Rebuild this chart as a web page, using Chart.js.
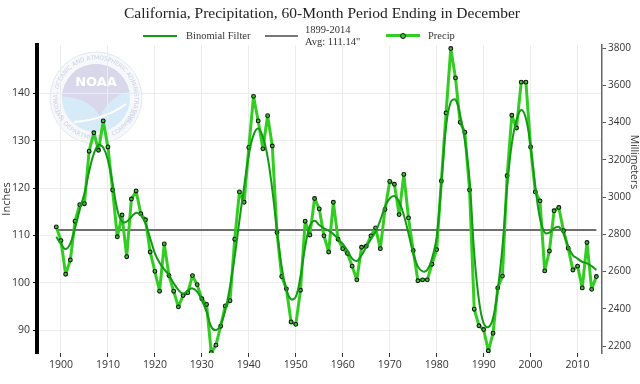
<!DOCTYPE html>
<html lang="en">
<head>
  <meta charset="UTF-8">
  <title>California, Precipitation, 60-Month Period Ending in December</title>
  <style>
    * { margin: 0; padding: 0; box-sizing: border-box; }
    body { background: #fff; }
    #wrap { position: relative; width: 640px; height: 384px; }
    #wrap canvas { position: absolute; left: 0; top: 0; }
    .title {
      position: absolute; left: 0; top: 4px; width: 644px; text-align: center;
      font-family: 'Liberation Serif', serif; font-size: 15.5px; color: #222;
    }
    .leg { position: absolute; font-family: 'Liberation Serif', serif; font-size: 10.5px; color: #333; line-height: 11px; white-space: nowrap; }
    .swatch { position: absolute; }
    .mm {
      position: absolute; left: 600px; top: 155px; width: 70px; text-align: center;
      font-family: 'Open Sans', sans-serif; font-size: 10.5px; color: #333;
      transform: rotate(90deg); transform-origin: center center;
    }
  </style>
</head>
<body>
  <div id="wrap">
    <canvas id="chart" width="640" height="384"></canvas>
    <div class="title">California, Precipitation, 60-Month Period Ending in December</div>

    <div class="swatch" style="left:143px;top:35px;width:34px;height:2px;background:#129a12"></div>
    <div class="leg" style="left:186px;top:30px">Binomial Filter</div>

    <div class="swatch" style="left:265px;top:35px;width:33px;height:2px;background:#777"></div>
    <div class="leg" style="left:305px;top:24px">1899-2014</div>
    <div class="leg" style="left:305px;top:36px">Avg: 111.14"</div>

    <div class="swatch" style="left:386px;top:34px;width:34px;height:3px;background:#33cc22"></div>
    <div class="swatch" style="left:400px;top:32.5px;width:6px;height:6px;border:1.2px solid #111;border-radius:50%;background:#33cc22"></div>
    <div class="leg" style="left:428px;top:30px">Precip</div>

    <div class="mm">Millimeters</div>
  </div>

  <script src="https://cdn.jsdelivr.net/npm/chart.js@4.4.1/dist/chart.umd.min.js"></script>
  <script>
    const years = [
      1899,
      1900, 1901, 1902, 1903, 1904, 1905, 1906, 1907, 1908, 1909,
      1910, 1911, 1912, 1913, 1914, 1915, 1916, 1917, 1918, 1919,
      1920, 1921, 1922, 1923, 1924, 1925, 1926, 1927, 1928, 1929,
      1930, 1931, 1932, 1933, 1934, 1935, 1936, 1937, 1938, 1939,
      1940, 1941, 1942, 1943, 1944, 1945, 1946, 1947, 1948, 1949,
      1950, 1951, 1952, 1953, 1954, 1955, 1956, 1957, 1958, 1959,
      1960, 1961, 1962, 1963, 1964, 1965, 1966, 1967, 1968, 1969,
      1970, 1971, 1972, 1973, 1974, 1975, 1976, 1977, 1978, 1979,
      1980, 1981, 1982, 1983, 1984, 1985, 1986, 1987, 1988, 1989,
      1990, 1991, 1992, 1993, 1994, 1995, 1996, 1997, 1998, 1999,
      2000, 2001, 2002, 2003, 2004, 2005, 2006, 2007, 2008, 2009,
      2010, 2011, 2012, 2013, 2014
    ];

    // 60-month precipitation totals, inches
    const precip = [
      111.8,
      108.9, 101.8, 104.8, 113.0, 116.5, 116.7, 127.8, 131.7, 128.0, 134.2,
      128.7, 119.6, 109.7, 114.3, 105.5, 117.7, 119.4, 114.6, 113.3, 106.5,
      102.4, 98.2, 108.2, 101.5, 98.2, 94.9, 97.3, 97.9, 101.5, 99.6,
      96.6, 95.4, 85.2, 86.8, 90.8, 95.1, 96.2, 109.2, 119.2, 117.0,
      128.6, 139.4, 134.2, 128.3, 135.3, 128.9, 110.6, 101.3, 98.7, 91.7,
      91.2, 98.4, 113.0, 110.1, 117.8, 115.6, 109.9, 106.5, 117.0, 109.2,
      107.2, 106.2, 103.5, 100.6, 107.5, 107.7, 109.9, 111.6, 107.2, 115.5,
      121.4, 120.8, 114.4, 122.9, 113.7, 106.8, 100.4, 100.6, 100.6, 103.9,
      107.0, 121.5, 135.9, 149.5, 143.3, 133.9, 131.8, 119.6, 94.4, 90.9,
      90.1, 85.6, 89.3, 98.9, 101.4, 122.6, 135.4, 132.7, 142.4, 142.4,
      128.7, 119.2, 117.3, 102.5, 106.7, 115.2, 115.9, 111.0, 107.3, 102.7,
      103.5, 98.9, 108.5, 98.6, 101.3
    ];

    // binomial filter
    const binomial = [
      109.7,
      108.2, 107.1, 108.3, 111.5, 115.4, 118.9, 123.5, 127.3, 129.1, 128.6,
      125.9, 121.0, 115.4, 112.9, 112.9, 113.9, 114.8, 114.3, 112.5, 109.4,
      106.2, 104.2, 102.8, 101.6, 99.9, 98.5, 97.7, 98.3, 98.8, 98.1,
      96.3, 93.9, 90.7, 90.0, 91.1, 94.2, 99.2, 105.5, 113.2, 120.3,
      127.0, 131.2, 132.6, 130.8, 126.6, 119.6, 111.1, 103.4, 98.5, 96.5,
      97.0, 101.3, 107.6, 112.0, 113.1, 112.2, 111.5, 111.0, 110.3, 109.2,
      108.2, 106.8, 105.1, 104.6, 105.8, 107.6, 109.2, 110.8, 113.2, 116.1,
      117.8, 118.3, 117.1, 114.3, 110.4, 106.2, 103.4, 102.4, 102.7, 105.1,
      109.7, 121.0, 133.0, 138.2, 138.7, 135.4, 130.1, 121.7, 106.2, 96.3,
      91.4, 90.6, 92.5, 98.5, 107.6, 120.3, 129.4, 134.4, 136.5, 134.7,
      128.7, 120.3, 113.6, 110.6, 110.6, 111.5, 111.8, 110.4, 107.6, 105.8,
      105.1, 104.4, 104.1, 103.5, 102.7
    ];

    const avgValue = 111.14;
    const avgYears = [1899, 2014];

    const xTicks = [1900, 1910, 1920, 1930, 1940, 1950, 1960, 1970, 1980, 1990, 2000, 2010];
    const inchTicks = [90, 100, 110, 120, 130, 140];
    const mmTicks = [2200, 2400, 2600, 2800, 3000, 3200, 3400, 3600, 3800];

    const yMin = 85.14, yMax = 150.25;
    const MM_PER_INCH = 25.4;

    const tickFont = {family: "'Open Sans', sans-serif", size: 10.5};

    // faint NOAA seal behind the plot
    const noaaSeal = {
      id: 'noaaSeal',
      beforeDraw(chart) {
        const ctx = chart.ctx;
        const cx = 96, cy = 98, r = 46;
        ctx.save();
        ctx.beginPath();
        ctx.arc(cx, cy, r, 0, Math.PI * 2);
        ctx.fillStyle = '#f6f8fc';
        ctx.fill();
        ctx.strokeStyle = '#e4e8f2';
        ctx.lineWidth = 1;
        ctx.stroke();

        ctx.beginPath();
        ctx.arc(cx, cy, 34, 0, Math.PI * 2);
        ctx.fillStyle = '#d6eaf7';
        ctx.fill();
        ctx.save();
        ctx.clip();
        ctx.beginPath();
        ctx.moveTo(cx - 40, cy - 40);
        ctx.lineTo(cx + 40, cy - 40);
        ctx.lineTo(cx + 40, cy - 6);
        ctx.quadraticCurveTo(cx + 18, cy - 8, cx + 4, cy + 18);
        ctx.quadraticCurveTo(cx - 8, cy - 2, cx - 40, cy - 2);
        ctx.closePath();
        ctx.fillStyle = '#d9d8ea';
        ctx.fill();
        ctx.beginPath();
        ctx.moveTo(cx - 22, cy + 24);
        ctx.quadraticCurveTo(cx + 8, cy + 22, cx + 30, cy + 6);
        ctx.strokeStyle = '#ffffff';
        ctx.lineWidth = 2;
        ctx.stroke();
        ctx.restore();

        ctx.fillStyle = '#ffffff';
        ctx.font = "bold 13px 'DejaVu Sans', sans-serif";
        ctx.textAlign = 'center';
        ctx.textBaseline = 'middle';
        ctx.fillText('NOAA', cx, cy - 15);

        ctx.fillStyle = '#cdd3e3';
        ctx.font = "6px 'DejaVu Sans', sans-serif";
        const ringR = 40;
        const top = 'NATIONAL OCEANIC AND ATMOSPHERIC ADMINISTRATION';
        let w = ctx.measureText(top).width;
        let a = -Math.PI / 2 - (w / ringR) / 2;
        for (const ch of top) {
          const cw = ctx.measureText(ch).width;
          const th = a + (cw / 2) / ringR;
          ctx.save();
          ctx.translate(cx + ringR * Math.cos(th), cy + ringR * Math.sin(th));
          ctx.rotate(th + Math.PI / 2);
          ctx.fillText(ch, 0, 0);
          ctx.restore();
          a += cw / ringR;
        }
        const bottom = 'U.S. DEPARTMENT OF COMMERCE';
        w = ctx.measureText(bottom).width;
        a = Math.PI / 2 + (w / ringR) / 2;
        for (const ch of bottom) {
          const cw = ctx.measureText(ch).width;
          const th = a - (cw / 2) / ringR;
          ctx.save();
          ctx.translate(cx + ringR * Math.cos(th), cy + ringR * Math.sin(th));
          ctx.rotate(th - Math.PI / 2);
          ctx.fillText(ch, 0, 0);
          ctx.restore();
          a -= cw / ringR;
        }
        ctx.restore();
      }
    };

    const toPoints = vals => years.map((yr, i) => ({x: yr, y: vals[i]}));

    new Chart(document.getElementById('chart'), {
      type: 'line',
      data: {
        datasets: [
          {
            label: 'Binomial Filter',
            data: toPoints(binomial),
            borderColor: '#129a12',
            borderWidth: 2,
            pointRadius: 0,
            tension: 0.4,
            order: 1
          },
          {
            label: 'Precip',
            data: toPoints(precip),
            borderColor: '#33cc22',
            borderWidth: 3,
            borderJoinStyle: 'round',
            pointRadius: 1.9,
            pointBorderWidth: 1.1,
            pointBorderColor: '#111',
            pointBackgroundColor: '#33cc22',
            tension: 0,
            order: 2
          },
          {
            label: 'Avg',
            data: avgYears.map(yr => ({x: yr, y: avgValue})),
            borderColor: '#6e6e6e',
            borderWidth: 1.8,
            pointRadius: 0,
            order: 3
          }
        ]
      },
      options: {
        responsive: false,
        animation: false,
        layout: {padding: {top: 45, left: 0, right: 0, bottom: 0}},
        plugins: {
          legend: {display: false},
          title: {display: false},
          tooltip: {enabled: false}
        },
        scales: {
          x: {
            type: 'linear',
            min: 1894.9,
            max: 2015.2,
            afterBuildTicks: s => { s.ticks = xTicks.map(v => ({value: v})); },
            afterFit: s => { s.height = 31; },
            border: {display: false},
            grid: {color: '#ececec', tickColor: '#333', tickLength: 4},
            ticks: {font: tickFont, color: '#333', padding: 2, maxRotation: 0, callback: v => String(v)}
          },
          y: {
            position: 'left',
            min: yMin,
            max: yMax,
            afterBuildTicks: s => { s.ticks = inchTicks.map(v => ({value: v})); },
            afterFit: s => { s.width = 37; },
            border: {color: '#000', width: 4},
            grid: {color: '#ececec', tickColor: '#000', tickLength: 4},
            ticks: {font: tickFont, color: '#333', padding: 3},
            title: {display: true, text: 'Inches', font: {family: "'Open Sans', sans-serif", size: 11}, color: '#333', padding: 0}
          },
          y2: {
            position: 'right',
            min: yMin * MM_PER_INCH,
            max: yMax * MM_PER_INCH,
            afterBuildTicks: s => { s.ticks = mmTicks.map(v => ({value: v})); },
            afterFit: s => { s.width = 38; },
            border: {color: '#666', width: 1.5},
            grid: {drawOnChartArea: false, tickColor: '#555', tickLength: 4},
            ticks: {font: {family: "'Open Sans', sans-serif", size: 10}, color: '#333', padding: 2, callback: v => String(v)}
          }
        }
      },
      plugins: [noaaSeal]
    });
  </script>
</body>
</html>
